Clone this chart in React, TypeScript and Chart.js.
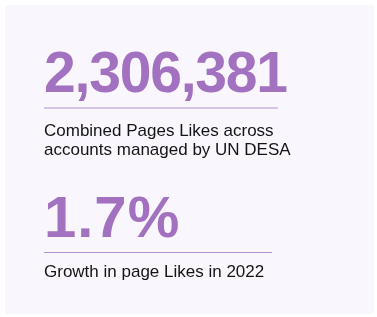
import React, { useEffect, useRef } from "react";
import { Chart, registerables } from "chart.js";

Chart.register(...registerables);

const statValues = ["2,306,381", "1.7%"];
const statLabels = [
  ["Combined Pages Likes across", "accounts managed by UN DESA"],
  ["Growth in page Likes in 2022"],
];

const cardPlugin = {
  id: "statCard",
  beforeDraw(chart: any) {
    const ctx = chart.ctx;
    ctx.save();
    ctx.fillStyle = "#ffffff";
    ctx.fillRect(0, 0, chart.width, chart.height);
    ctx.fillStyle = "#f9f7fd";
    ctx.beginPath();
    (ctx as any).roundRect(5, 5, 369, 309, 3);
    ctx.fill();
    ctx.restore();
  },
  afterDraw(chart: any) {
    const ctx = chart.ctx;
    ctx.save();
    const blocks = [
      { base: 92, line: 108, lineEnd: 278, label: 136, size: 57, spacing: "-1.2px" },
      { base: 237, line: 252.5, lineEnd: 272, label: 277, size: 58, spacing: "1px" },
    ];
    statValues.forEach((v, i) => {
      const b = blocks[i];
      ctx.fillStyle = "#a271bf";
      ctx.font = `bold ${b.size}px 'Liberation Sans', Arial, sans-serif`;
      (ctx as any).letterSpacing = b.spacing;
      ctx.textBaseline = "alphabetic";
      ctx.textAlign = "left";
      ctx.fillText(v, 44, b.base);
      (ctx as any).letterSpacing = "0px";
      ctx.strokeStyle = "#b68ed2";
      ctx.lineWidth = 1.2;
      ctx.beginPath();
      ctx.moveTo(44, b.line);
      ctx.lineTo(b.lineEnd, b.line);
      ctx.stroke();
      ctx.fillStyle = "#141414";
      ctx.font = "17px 'Liberation Sans', Arial, sans-serif";
      statLabels[i].forEach((t, j) => {
        ctx.fillText(t, 44, b.label + j * 19);
      });
    });
    ctx.restore();
  },
};

export default function App() {
  const ref = useRef<HTMLCanvasElement | null>(null);
  useEffect(() => {
    if (!ref.current) return;
    const chart = new Chart(ref.current, {
      type: "bar",
      data: { labels: [], datasets: [] },
      options: {
        animation: false,
        responsive: false,
        plugins: { legend: { display: false }, tooltip: { enabled: false } },
        scales: { x: { display: false }, y: { display: false } },
      },
      plugins: [cardPlugin],
    });
    return () => chart.destroy();
  }, []);
  return (
    <div style={{ position: "fixed", left: 0, top: 0, width: 377, height: 317 }}>
      <canvas ref={ref} width={377} height={317} style={{ width: 377, height: 317 }} />
    </div>
  );
}
